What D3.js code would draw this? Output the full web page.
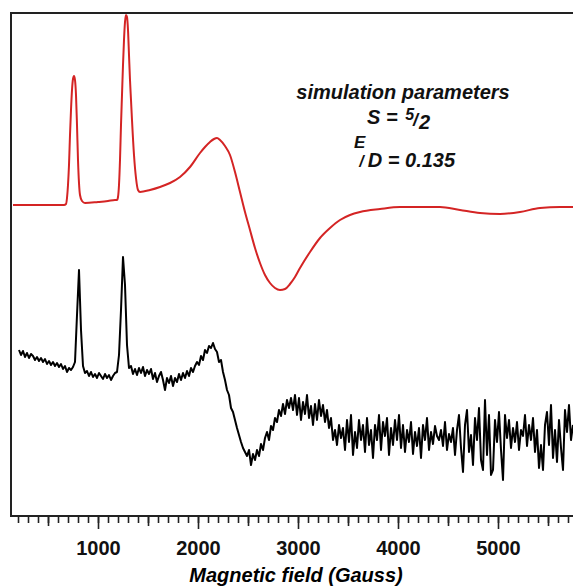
<!DOCTYPE html>
<html>
<head>
<meta charset="utf-8">
<script src="https://cdn.jsdelivr.net/npm/d3@7"></script>
<style>
  body { margin: 0; background: #fff; }
  svg text { font-family: "Liberation Sans", Arial, sans-serif; font-weight: bold; }
  .it { font-style: italic; }
</style>
</head>
<body>
<div id="chart"></div>
<script>
// simulated spectrum (field in Gauss, intensity in a.u.)
var redTrace = [
  [150, 0], [420, 0], [660, 0], [680, 1], [690, 7], [700, 20], [710, 40], [720, 70],
  [730, 95], [740, 115], [750, 126], [760, 129], [770, 125], [780, 110], [790, 80],
  [800, 45], [810, 22], [820, 10], [840, 4], [870, 2], [1000, 3], [1100, 4], [1170, 5],
  [1190, 5], [1200, 8], [1210, 20], [1220, 45], [1230, 80], [1240, 110], [1250, 140],
  [1260, 165], [1270, 183], [1280, 190], [1290, 188], [1300, 175], [1310, 150],
  [1320, 125], [1330, 105], [1340, 85], [1360, 50], [1380, 27], [1400, 15], [1420, 13],
  [1520, 15], [1620, 18], [1720, 22], [1820, 28], [1920, 38], [2020, 52], [2070, 58],
  [2120, 63], [2160, 66], [2190, 67], [2220, 65], [2270, 59], [2320, 50], [2370, 33],
  [2420, 13], [2470, -7], [2520, -25], [2570, -43], [2620, -58], [2670, -70], [2720, -78],
  [2770, -83], [2820, -85], [2870, -84], [2920, -79], [2970, -72], [3020, -63],
  [3120, -47], [3220, -33], [3320, -23], [3420, -15], [3520, -10], [3620, -7],
  [3820, -4], [4020, -2], [4220, -2], [4420, -2], [4620, -5], [4820, -8], [5020, -9],
  [5220, -7], [5420, -3], [5620, -2], [5750, -2]
];

// experimental spectrum, drawn shifted down by blackOffset
var blackOffset = -165;
var blackTrace = [
  [210, 20], [230, 15], [250, 19], [270, 13], [290, 17], [310, 12], [330, 16], [350, 14],
  [370, 10], [390, 13], [410, 9], [430, 12], [450, 8], [470, 11], [490, 6], [510, 9],
  [530, 5], [550, 8], [570, 4], [590, 7], [610, 3], [630, 6], [650, 1], [670, 4],
  [690, -2], [710, 2], [730, 0], [750, 3], [770, 8], [790, 55], [810, 100], [830, 40],
  [850, 4], [870, -3], [890, -1], [910, -6], [930, -2], [950, -7], [970, -4], [990, -8],
  [1010, -3], [1030, -6], [1050, -9], [1070, -4], [1090, -8], [1110, -5], [1130, -10],
  [1150, -6], [1170, -3], [1190, -2], [1210, 15], [1230, 60], [1250, 113], [1270, 85],
  [1290, 25], [1310, 2], [1330, 4], [1350, -4], [1370, 1], [1390, -5], [1410, 2],
  [1430, -3], [1450, 3], [1470, -6], [1490, 0], [1510, -4], [1530, 1], [1550, -9],
  [1570, -3], [1590, -12], [1610, -6], [1630, -2], [1650, -10], [1670, -20], [1690, -8],
  [1710, -13], [1730, -6], [1750, -16], [1770, -8], [1790, -12], [1810, -4], [1830, -10],
  [1850, -3], [1870, -8], [1890, -1], [1910, -6], [1930, 2], [1950, -2], [1970, 4],
  [1990, 8], [2010, 5], [2030, 14], [2050, 10], [2070, 20], [2090, 17], [2110, 24],
  [2130, 22], [2150, 27], [2170, 21], [2190, 18], [2210, 8], [2230, 10], [2250, -2],
  [2270, -10], [2290, -20], [2310, -25], [2330, -38], [2350, -42], [2370, -50],
  [2390, -58], [2410, -65], [2430, -72], [2450, -78], [2470, -82], [2490, -86],
  [2510, -80], [2530, -95], [2550, -84], [2570, -90], [2590, -80], [2610, -86],
  [2630, -74], [2650, -80], [2670, -68], [2690, -62], [2710, -70], [2730, -56],
  [2750, -60], [2770, -48], [2790, -52], [2810, -40], [2830, -46], [2850, -34],
  [2870, -44], [2890, -30], [2910, -38], [2930, -28], [2950, -40], [2970, -25],
  [2990, -45], [3010, -28], [3030, -50], [3050, -32], [3070, -44], [3090, -25],
  [3110, -48], [3130, -36], [3150, -55], [3170, -34], [3190, -50], [3210, -30],
  [3230, -46], [3250, -35], [3270, -52], [3290, -40], [3310, -58], [3330, -48],
  [3350, -70], [3370, -60], [3390, -75], [3410, -55], [3430, -68], [3450, -58],
  [3470, -80], [3490, -50], [3510, -72], [3530, -45], [3550, -85], [3570, -62],
  [3590, -78], [3610, -50], [3630, -70], [3650, -55], [3670, -82], [3690, -48],
  [3710, -75], [3730, -60], [3750, -88], [3770, -55], [3790, -70], [3810, -45],
  [3830, -80], [3850, -52], [3870, -66], [3890, -48], [3910, -85], [3930, -58],
  [3950, -75], [3970, -50], [3990, -70], [4010, -45], [4030, -78], [4050, -55],
  [4070, -82], [4090, -60], [4110, -72], [4130, -52], [4150, -84], [4170, -62],
  [4190, -76], [4210, -58], [4230, -88], [4250, -55], [4270, -70], [4290, -48],
  [4310, -80], [4330, -62], [4350, -74], [4370, -56], [4390, -66], [4410, -70],
  [4430, -60], [4450, -76], [4470, -52], [4490, -80], [4510, -64], [4530, -72],
  [4550, -58], [4570, -85], [4590, -60], [4610, -45], [4630, -78], [4650, -102],
  [4670, -55], [4690, -40], [4710, -82], [4730, -65], [4750, -95], [4770, -48],
  [4790, -70], [4810, -38], [4830, -90], [4850, -100], [4870, -30], [4890, -85],
  [4910, -45], [4930, -105], [4950, -100], [4970, -50], [4990, -72], [5010, -42],
  [5030, -80], [5050, -110], [5070, -45], [5090, -68], [5110, -50], [5130, -78],
  [5150, -58], [5170, -72], [5190, -52], [5210, -80], [5230, -60], [5250, -66],
  [5270, -45], [5290, -76], [5310, -55], [5330, -70], [5350, -48], [5370, -82],
  [5390, -60], [5410, -98], [5430, -75], [5450, -100], [5470, -55], [5490, -42],
  [5510, -75], [5530, -35], [5550, -88], [5570, -60], [5590, -92], [5610, -50],
  [5630, -78], [5650, -100], [5670, -40], [5690, -62], [5710, -35], [5730, -70],
  [5750, -55]
];

var majorTicks = [1000, 2000, 3000, 4000, 5000];
var mediumTicks = [500, 1500, 2500, 3500, 4500, 5500];
var minorTicks = d3.range(200, 5800, 100);

var width = 573,
  height = 586;

var svg = d3
  .select("#chart")
  .append("svg")
  .attr("width", width)
  .attr("height", height);

var x = d3.scaleLinear().domain([130, 5750]).range([11, 573]);
var y = d3.scaleLinear().domain([-311, 192]).range([516, 13]);

// x axis: three tick lengths
function tickAxis(vals, size, labels) {
  var ax = d3.axisBottom(x).tickValues(vals).tickSize(size).tickSizeOuter(0);
  if (labels) ax.tickPadding(12).tickFormat(d3.format("d"));
  else ax.tickFormat("");
  var g = svg.append("g").attr("transform", "translate(0,516)").call(ax);
  g.select(".domain").remove();
  g.selectAll("line").attr("stroke", "#222").attr("stroke-width", 1.6);
  g.selectAll("text")
    .attr("fill", "#111")
    .style("font-size", "20px")
    .style("font-family", '"Liberation Sans", Arial, sans-serif')
    .style("font-weight", "bold");
  return g;
}
tickAxis(minorTicks, 7, false);
tickAxis(mediumTicks, 10, false);
tickAxis(majorTicks, 13, true);

// frame
svg
  .append("rect")
  .attr("x", 11)
  .attr("y", 13)
  .attr("width", 620)
  .attr("height", 503)
  .attr("fill", "none")
  .attr("stroke", "#222")
  .attr("stroke-width", 2);

var line = d3
  .line()
  .x((d) => x(d[0]))
  .y((d) => y(d[1]));

svg
  .append("path")
  .datum(redTrace)
  .attr("d", line.curve(d3.curveMonotoneX))
  .attr("fill", "none")
  .attr("stroke", "#d42424")
  .attr("stroke-width", 2);

svg
  .append("path")
  .datum(blackTrace.map((d) => [d[0], d[1] + blackOffset]))
  .attr("d", line.curve(d3.curveLinear))
  .attr("fill", "none")
  .attr("stroke", "#000")
  .attr("stroke-width", 2)
  .attr("stroke-linejoin", "round");

// axis title
svg
  .append("text")
  .attr("class", "it")
  .attr("x", 296)
  .attr("y", 582)
  .attr("text-anchor", "middle")
  .style("font-size", "20px")
  .text("Magnetic field (Gauss)");

// simulation parameters block
var note = svg.append("g").attr("fill", "#111");
note
  .append("text")
  .attr("class", "it")
  .attr("x", 403)
  .attr("y", 99)
  .attr("text-anchor", "middle")
  .style("font-size", "20px")
  .text("simulation parameters");

var sLine = note.append("text").attr("class", "it").attr("x", 367).attr("y", 124)
  .style("font-size", "20px");
sLine.append("tspan").text("S = ");
sLine.append("tspan").attr("dx", 2).attr("dy", -4).style("font-size", "16px").text("5");
sLine.append("tspan").attr("dx", -1).attr("dy", 6).style("font-size", "18px").text("/");
sLine.append("tspan").attr("dx", 1).attr("dy", 3).text("2");

var eLine = note.append("text").attr("class", "it").attr("x", 354).attr("y", 148)
  .style("font-size", "17px");
eLine.append("tspan").text("E");
eLine.append("tspan").attr("dx", -6).attr("dy", 19).style("font-size", "16px").text("/");
eLine.append("tspan").attr("dx", 4).style("font-size", "20px").text("D = 0.135");
</script>
</body>
</html>
